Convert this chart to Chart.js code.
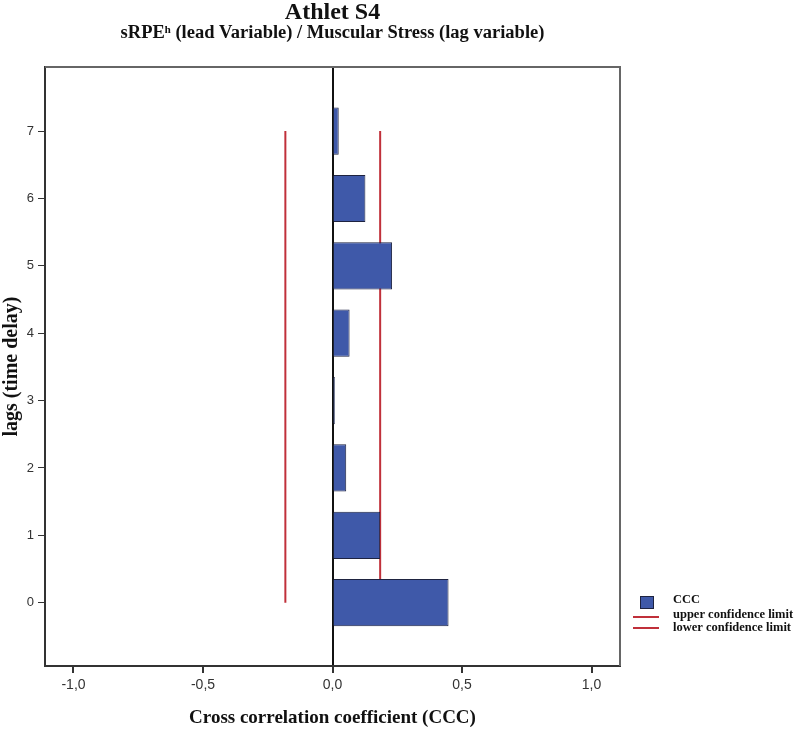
<!DOCTYPE html>
<html>
<head>
<meta charset="utf-8">
<script src="https://cdn.jsdelivr.net/npm/chart.js@4.4.0/dist/chart.umd.min.js"></script>
<style>
  body { margin: 0; background: #fff; }
  #wrap { width: 800px; height: 731px; }
</style>
</head>
<body>
<div id="wrap"><canvas id="myChart" width="800" height="731"></canvas></div>
<script>
// lags 0..7, cross correlation values
const lags = [0, 1, 2, 3, 4, 5, 6, 7];
const ccc = [0.448, 0.184, 0.053, 0.009, 0.066, 0.230, 0.127, 0.024];
const upperLimit = [0.184, 0.184, 0.184, 0.184, 0.184, 0.184, 0.184, 0.184];
const lowerLimit = [-0.182, -0.182, -0.182, -0.182, -0.182, -0.182, -0.182, -0.182];
const xTicks = [-1, -0.5, 0, 0.5, 1];
const yTicks = [0, 1, 2, 3, 4, 5, 6, 7];

const serif = "'Liberation Serif', 'Times New Roman', serif";
const sans = "'Liberation Sans', Arial, sans-serif";
const barColor = '#3f59a9';
const barBorder = '#1e2340';
const red = '#c0303a';

// top + right side of the frame
const frame = {
  id: 'frame',
  beforeDatasetsDraw(chart) {
    const { ctx, chartArea: a } = chart;
    ctx.save();
    ctx.strokeStyle = '#666';
    ctx.lineWidth = 2;
    ctx.beginPath();
    ctx.moveTo(a.left, a.top);
    ctx.lineTo(a.right, a.top);
    ctx.lineTo(a.right, a.bottom);
    ctx.stroke();
    ctx.restore();
  }
};

// legend in the lower right corner
const sideLegend = {
  id: 'sideLegend',
  afterDraw(chart) {
    const ctx = chart.ctx;
    const ds = chart.data.datasets;
    ctx.save();
    ctx.fillStyle = barColor;
    ctx.strokeStyle = barBorder;
    ctx.lineWidth = 1;
    ctx.fillRect(640, 596, 13, 12);
    ctx.strokeRect(640.5, 596.5, 13, 12);
    ctx.strokeStyle = red;
    ctx.lineWidth = 2;
    [617, 628].forEach(y => {
      ctx.beginPath();
      ctx.moveTo(633, y);
      ctx.lineTo(659, y);
      ctx.stroke();
    });
    ctx.fillStyle = '#111';
    ctx.font = 'bold 12.5px ' + serif;
    ctx.textBaseline = 'middle';
    ctx.fillText(ds[0].label, 673, 600);
    ctx.fillText(ds[1].label, 673, 615);
    ctx.fillText(ds[2].label, 673, 628);
    ctx.restore();
  }
};

new Chart(document.getElementById('myChart'), {
  type: 'bar',
  data: {
    datasets: [{
      label: 'CCC',
      data: lags.map((l, i) => ({ x: ccc[i], y: l })),
      backgroundColor: barColor,
      borderColor: barBorder,
      borderWidth: 1,
      barPercentage: 0.7,
      categoryPercentage: 1
    }, {
      type: 'line',
      label: 'upper confidence limit',
      data: lags.map((l, i) => ({ x: upperLimit[i], y: l })),
      borderColor: red,
      borderWidth: 2,
      pointRadius: 0
    }, {
      type: 'line',
      label: 'lower confidence limit',
      data: lags.map((l, i) => ({ x: lowerLimit[i], y: l })),
      borderColor: red,
      borderWidth: 2,
      pointRadius: 0
    }]
  },
  options: {
    indexAxis: 'y',
    responsive: false,
    animation: false,
    layout: { padding: { left: 0, right: 180, top: 0, bottom: 0 } },
    plugins: {
      legend: { display: false },
      tooltip: { enabled: false },
      title: {
        display: true,
        fullSize: false,
        text: 'Athlet S4',
        color: '#111',
        font: { family: serif, size: 24, weight: 'bold', lineHeight: 0.9 },
        padding: { top: 2, bottom: 0 }
      },
      subtitle: {
        display: true,
        fullSize: false,
        text: 'sRPEʰ (lead Variable) / Muscular Stress (lag variable)',
        color: '#111',
        font: { family: serif, size: 18.5, weight: 'bold', lineHeight: 1.0 },
        padding: { top: 0, bottom: 25 }
      }
    },
    scales: {
      x: {
        type: 'linear',
        min: -1.11,
        max: 1.11,
        afterBuildTicks: s => { s.ticks = xTicks.map(v => ({ value: v })); },
        afterFit: s => { s.height = 65; },
        ticks: {
          color: '#333',
          font: { family: sans, size: 14 },
          padding: 4,
          callback: v => v.toFixed(1).replace('.', ',')
        },
        grid: {
          drawOnChartArea: true,
          color: c => (c.tick && c.tick.value === 0) ? '#111' : 'rgba(0,0,0,0)',
          lineWidth: 2,
          tickColor: '#333',
          tickLength: 7
        },
        border: { color: '#333', width: 2 },
        title: {
          display: true,
          text: 'Cross correlation coefficient (CCC)',
          color: '#111',
          font: { family: serif, size: 19, weight: 'bold' },
          padding: { top: 0, bottom: 2 }
        }
      },
      y: {
        type: 'linear',
        min: -0.94,
        max: 7.95,
        offset: false,
        afterBuildTicks: s => { s.ticks = yTicks.map(v => ({ value: v })); },
        afterFit: s => { s.width = 45; },
        ticks: {
          color: '#333',
          font: { family: sans, size: 13 },
          padding: 4,
          callback: v => String(v)
        },
        grid: {
          offset: false,
          drawOnChartArea: false,
          tickColor: '#333',
          tickLength: 7
        },
        border: { color: '#333', width: 2 },
        title: {
          display: true,
          text: 'lags (time delay)',
          color: '#111',
          font: { family: serif, size: 20, weight: 'bold' },
          padding: 0
        }
      }
    }
  },
  plugins: [frame, sideLegend]
});
</script>
</body>
</html>
